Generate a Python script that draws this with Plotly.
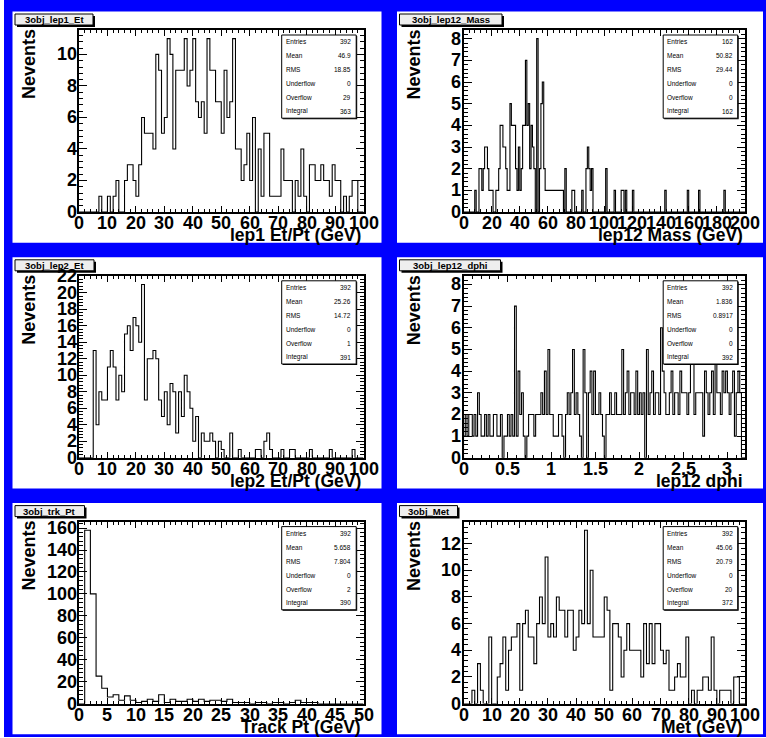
import plotly.graph_objects as go

W, H = 766, 738

# ---------------- data ----------------
lep1_et = [0,0,0,0,0,0,0,1,0,0, 1,0,1,2,0,0,2,3,3,2, 1,3,6,5,5,5,4,10,9,5,
           6,11,10,4,9,9,9,11,8,9, 11,7,6,7,5,11,9,9,7,7, 5,9,6,7,11,4,4,2,3,5,
           2,6,0,4,1,5,5,1,1,1, 1,4,2,2,2,0,2,1,4,1, 0,3,3,2,2,3,2,2,1,3,
           2,2,0,1,0,1,2,2,0,0]

mass_bin = [8,11,12,13,14,15,16,17,18,19,20,23,24,25,26,27,28,29,30,31,32,33,34,35,36,37,38,39,40,
            41,42,43,44,45,46,47,48,49,50,52,54,55,56,57,58,59,60,61,62,63,64,65,66,67,68,69,70,
            72,77,78,84,87,88,89,90,91,101,107,112,113,115,120,143,159,167,185]
mass_cnt = [1,2,2,1,2,3,3,2,1,1,1,1,1,2,4,4,3,3,2,1,1,5,4,4,4,2,1,3,1,
            2,4,4,7,4,5,2,4,3,2,8,2,5,6,2,1,1,1,1,1,1,1,1,1,1,1,1,1,
            2,1,1,1,2,3,2,1,2,2,1,1,1,1,1,1,1,1,1]

lep2_et = [0,0,0,0,0,13,4,8,7,7, 11,13,11,7,10,8,15,16,13,17, 16,14,21,7,12,12,13,12,7,5,
           8,4,9,8,3,8,5,10,8,6, 2,5,0,3,2,2,3,2,0,2, 1,0,0,3,0,0,1,0,0,0,
           0,0,1,1,0,2,3,1,0,0, 0,1,0,0,1,1,0,0,0,0, 0,1,0,0,0,0,0,0,1,0,
           0,0,0,0,0,0,1,0,0,0]

dphi = [1,2,1,2,2,1,2,1,3,2,1,1,2,1,2,1,1,2,2,1,
        1,2,0,1,1,2,1,2,1,7,1,4,2,3,1,0,1,2,2,2,
        1,2,2,2,3,2,4,2,5,2,2,1,1,1,2,2,1,0,2,3,
        2,3,5,2,3,2,1,0,5,3,0,3,4,2,4,2,2,3,2,1,
        0,2,2,3,2,2,3,2,2,2,5,2,3,4,2,3,3,2,4,2,
        3,2,3,0,5,2,3,4,2,3,3,2,6,4,3,2,2,3,4,2,
        3,3,2,4,3,3,3,2,3,5,8,2,3,3,3,3,1,4,3,2,
        3,4,2,5,3,3,2,4,3,4,3,2,3,4,1,3,4,3,0,0]

trk_pt = [0,158,100,25,14,6,8,3,7,3, 1,2,4,2,8,1,4,2,2,4, 2,4,2,3,3,2,4,1,1,1,
          0,1,1,0,1,1,0,1,3,1, 1,1,0,0,0,0,0,0,0,0]

met = [0,0,0,1,0,3,1,0,0,5, 0,0,2,3,5,1,4,5,5,6, 1,6,7,5,5,3,6,8,6,11,
       5,6,5,8,7,7,5,7,7,4, 5,7,6,13,6,10,5,5,5,5, 8,7,1,6,6,5,2,4,6,4,
       4,4,4,2,6,3,6,3,6,6, 4,3,4,1,1,2,3,2,2,5, 0,1,0,1,1,2,2,1,5,1,
       0,1,1,1,1,0,2,2,0,0]

names = ["3obj_lep1_Et", "3obj_lep12_Mass", "3obj_lep2_Et",
         "3obj_lep12_dphi", "3obj_trk_Pt", "3obj_Met"]
x_titles = ["lep1 Et/Pt (GeV)", "lep12 Mass (GeV)", "lep2 Et/Pt (GeV)",
            "lep12 dphi", "Track Pt (GeV)", "Met (GeV)"]
x_ranges = [(0, 100), (0, 200), (0, 100), (0, 3.2), (0, 50), (0, 100)]
x_dticks = [10, 20, 10, 0.5, 5, 10]
y_dticks = [2, 1, 2, 1, 20, 2]
stat_labels = ["Entries", "Mean", "RMS", "Underflow", "Overflow", "Integral"]
stat_values = [["392", "46.9", "18.85", "0", "29", "363"],
               ["162", "50.82", "29.44", "0", "0", "162"],
               ["392", "25.26", "14.72", "0", "1", "391"],
               ["392", "1.836", "0.8917", "0", "0", "392"],
               ["392", "5.658", "7.804", "0", "2", "390"],
               ["392", "45.06", "20.79", "0", "20", "372"]]

mass_full = [0] * 200
for b, c in zip(mass_bin, mass_cnt):
    mass_full[b] = c
hists = [lep1_et, mass_full, lep2_et, dphi, trk_pt, met]

# ---------------- layout helpers ----------------
def px(x):
    return x / W

def py(y):
    return 1 - y / H

def fmt(v):
    return "{:g}".format(round(v, 6))

FONT = "Liberation Sans"
BLUE = "#0000ff"
TICKFONT = dict(family=FONT, size=18, color="black", weight="bold")

fig = go.Figure()
shapes = []
annotations = []

shapes.append(dict(type="rect", xref="paper", yref="paper", x0=px(4), x1=px(766),
                   y0=py(737), y1=py(0), fillcolor=BLUE, line=dict(width=0), layer="below"))

title_w = [78, 102.5, 79, 101, 69.5, 58]

for i in range(6):
    r, c = divmod(i, 2)
    pad_l = [12.5, 397][c]
    pad_r = [381.5, 763][c]
    pad_t = 11.5 + r * 245.8
    pad_b = pad_t + 231.2
    fl = pad_l + 66.5
    fr = pad_r - 18
    ft = pad_t + 18.5
    fb = pad_t + 200.5

    shapes.append(dict(type="rect", xref="paper", yref="paper", x0=px(pad_l), x1=px(pad_r),
                       y0=py(pad_b), y1=py(pad_t), fillcolor="white", line=dict(width=0),
                       layer="below"))

    counts = hists[i]
    lo, hi = x_ranges[i]
    n = len(counts)
    edges = [lo + (hi - lo) * k / n for k in range(n + 1)]
    xs = [lo] + edges + [hi]
    ys = [0] + list(counts) + [counts[-1], 0]
    ymax = max(counts) * 1.05

    ax = "" if i == 0 else str(i + 1)
    fig.add_trace(go.Scatter(x=xs, y=ys, mode="lines", line=dict(color="black", width=1.1, shape="hv"),
                             xaxis="x" + ax, yaxis="y" + ax, showlegend=False, hoverinfo="skip"))

    fig.layout["xaxis" + ax] = dict(
        domain=[px(fl), px(fr)], range=[lo, hi], anchor="y" + ax,
        showline=True, linewidth=2, linecolor="black", mirror="ticks",
        ticks="inside", ticklen=6, tickwidth=1, tickcolor="black",
        tick0=0, dtick=x_dticks[i], showticklabels=False,
        minor=dict(ticks="inside", ticklen=3, tickwidth=1, tickcolor="black", dtick=x_dticks[i] / 5),
        showgrid=False, zeroline=False, fixedrange=True)
    fig.layout["yaxis" + ax] = dict(
        domain=[py(fb), py(ft)], range=[0, ymax], anchor="x" + ax,
        showline=True, linewidth=2, linecolor="black", mirror="ticks",
        ticks="inside", ticklen=8, tickwidth=1, tickcolor="black",
        tick0=0, dtick=y_dticks[i], showticklabels=False,
        minor=dict(ticks="inside", ticklen=4, tickwidth=1, tickcolor="black", dtick=y_dticks[i] / 5),
        showgrid=False, zeroline=False, fixedrange=True)

    # tick labels
    k = 0
    while lo + k * x_dticks[i] <= hi + 1e-9:
        v = lo + k * x_dticks[i]
        annotations.append(dict(xref="x" + ax, yref="paper", x=v, y=py(fb + 11),
                                text=fmt(v), showarrow=False, xanchor="center", yanchor="middle",
                                borderpad=0, font=TICKFONT))
        k += 1
    k = 0
    while k * y_dticks[i] <= ymax + 1e-9:
        v = k * y_dticks[i]
        annotations.append(dict(xref="paper", yref="y" + ax, x=px(fl - 1.2), y=v,
                                text=fmt(v), showarrow=False, xanchor="right", yanchor="middle",
                                borderpad=0, font=TICKFONT))
        k += 1

    # title box
    tb_l, tb_t = pad_l + 2.5, pad_t + 2.5
    tb_r, tb_b = tb_l + title_w[i], tb_t + 11
    shapes.append(dict(type="rect", xref="paper", yref="paper", x0=px(tb_l + 2), x1=px(tb_r + 2),
                       y0=py(tb_b + 2), y1=py(tb_t + 2), fillcolor="black", line=dict(width=0)))
    shapes.append(dict(type="rect", xref="paper", yref="paper", x0=px(tb_l), x1=px(tb_r),
                       y0=py(tb_b), y1=py(tb_t), fillcolor="#eeeeee", line=dict(color="black", width=1)))
    annotations.append(dict(xref="paper", yref="paper", x=px((tb_l + tb_r) / 2), y=py((tb_t + tb_b) / 2),
                            text=names[i], showarrow=False, xanchor="center", yanchor="middle",
                            borderpad=0, font=dict(family=FONT, size=9.5, color="black", weight="bold")))

    # stats box
    sb_r = fr - 7.3
    sb_l = sb_r - 74.5
    sb_t = pad_t + 23.5
    sb_b = pad_t + 106.7
    shapes.append(dict(type="rect", xref="paper", yref="paper", x0=px(sb_l + 1), x1=px(sb_r + 1),
                       y0=py(sb_b + 1), y1=py(sb_t + 1), fillcolor="black", line=dict(width=0)))
    shapes.append(dict(type="rect", xref="paper", yref="paper", x0=px(sb_l), x1=px(sb_r),
                       y0=py(sb_b), y1=py(sb_t), fillcolor="white", line=dict(color="black", width=1)))
    rowh = (sb_b - sb_t) / 6
    for k in range(6):
        yc = sb_t + rowh * (k + 0.5)
        annotations.append(dict(xref="paper", yref="paper", x=px(sb_l + 3), y=py(yc),
                                text=stat_labels[k], showarrow=False, xanchor="left", yanchor="middle",
                                borderpad=0, font=dict(family=FONT, size=6.5, color="black")))
        annotations.append(dict(xref="paper", yref="paper", x=px(sb_r - 4), y=py(yc),
                                text=stat_values[i][k], showarrow=False, xanchor="right", yanchor="middle",
                                borderpad=0, font=dict(family=FONT, size=6.5, color="black")))

    # axis titles
    annotations.append(dict(xref="paper", yref="paper", x=px(fr - 1.5), y=py(pad_t + 223.5),
                            text=x_titles[i], showarrow=False, xanchor="right", yanchor="middle",
                            borderpad=0, font=dict(family=FONT, size=17.5, color="black", weight="bold")))
    annotations.append(dict(xref="paper", yref="paper", x=px(pad_l + 17), y=py(pad_t + 17),
                            text="Nevents", showarrow=False, xanchor="center", yanchor="top",
                            textangle=-90, borderpad=0,
                            font=dict(family=FONT, size=18, color="black", weight="bold")))

fig.update_layout(width=W, height=H, margin=dict(l=0, r=0, t=0, b=0),
                  paper_bgcolor="white", plot_bgcolor="white",
                  shapes=shapes, annotations=annotations, showlegend=False)

fig.write_html("out.html")
